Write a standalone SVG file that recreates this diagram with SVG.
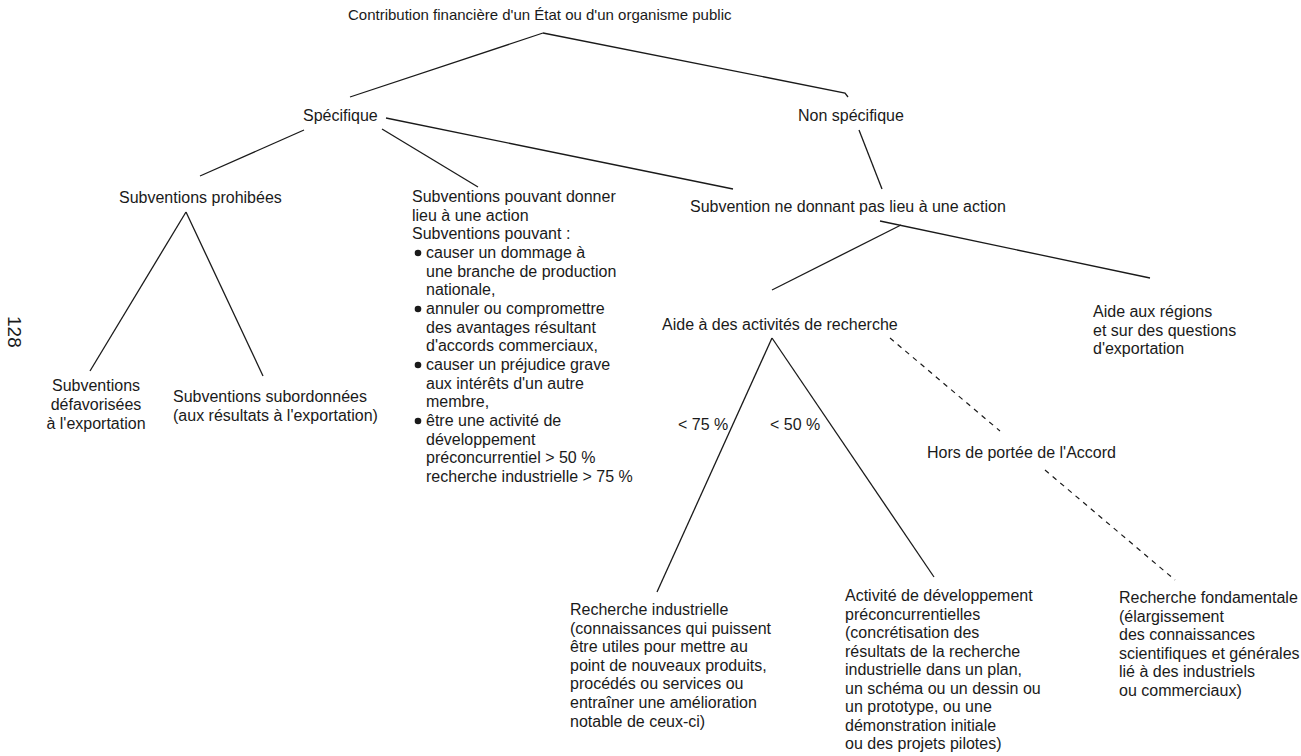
<svg xmlns="http://www.w3.org/2000/svg" width="1301" height="756" viewBox="0 0 1301 756">
<style>
text{font-family:"Liberation Sans",Arial,sans-serif;font-size:16px;fill:#1a1a1a}
.t{font-size:15px}
.c{text-anchor:middle}
.ln{stroke:#1a1a1a;stroke-width:1.3;fill:none}
.ds{stroke:#1a1a1a;stroke-width:1.2;fill:none;stroke-dasharray:5 5}
.b{fill:#1a1a1a}
</style>
<rect width="1301" height="756" fill="#fff"/>
<g id="connectors">
<line class="ln" x1="543" y1="33" x2="350" y2="97"/>
<polyline class="ln" points="543,33 845,93 848,97"/>
<line class="ln" x1="304" y1="130" x2="200" y2="176"/>
<line class="ln" x1="382" y1="129" x2="478" y2="187"/>
<line class="ln" x1="386" y1="118" x2="733" y2="189"/>
<line class="ln" x1="859" y1="130" x2="882" y2="189"/>
<line class="ln" x1="186" y1="212" x2="90" y2="371"/>
<line class="ln" x1="186" y1="212" x2="263" y2="376"/>
<line class="ln" x1="901" y1="225" x2="772" y2="290"/>
<line class="ln" x1="880" y1="221" x2="1150" y2="278"/>
<line class="ln" x1="772" y1="338" x2="657" y2="592"/>
<line class="ln" x1="772" y1="338" x2="934" y2="577"/>
<line class="ds" x1="890" y1="338" x2="1000" y2="431"/>
<line class="ds" x1="1045" y1="470" x2="1175" y2="580"/>
</g>
<g id="page"><text transform="translate(8,316) rotate(90)" style="font-size:19px">128</text></g>
<g id="n-contribution"><text class="t" x="348" y="20">Contribution financière d'un État ou d'un organisme public</text></g>
<g id="n-specifique"><text x="303" y="121">Spécifique</text></g>
<g id="n-nonspecifique"><text x="798" y="121">Non spécifique</text></g>
<g id="n-prohibees"><text x="119" y="203">Subventions prohibées</text></g>
<g id="n-defavorisees"><text class="c" x="96" y="391"><tspan x="96">Subventions</tspan><tspan x="96" dy="19">défavorisées</tspan><tspan x="96" dy="19">à l'exportation</tspan></text></g>
<g id="n-subordonnees"><text x="173" y="402"><tspan x="173">Subventions subordonnées</tspan><tspan x="173" dy="18.6">(aux résultats à l'exportation)</tspan></text></g>
<g id="n-action">
<text x="412" y="202"><tspan x="412">Subventions pouvant donner</tspan><tspan x="412" dy="18.67">lieu à une action</tspan><tspan x="412" dy="18.67">Subventions pouvant :</tspan><tspan x="426" dy="18.67">causer un dommage à</tspan><tspan x="426" dy="18.67">une branche de production</tspan><tspan x="426" dy="18.67">nationale,</tspan><tspan x="426" dy="18.67">annuler ou compromettre</tspan><tspan x="426" dy="18.67">des avantages résultant</tspan><tspan x="426" dy="18.67">d'accords commerciaux,</tspan><tspan x="426" dy="18.67">causer un préjudice grave</tspan><tspan x="426" dy="18.67">aux intérêts d'un autre</tspan><tspan x="426" dy="18.67">membre,</tspan><tspan x="426" dy="18.67">être une activité de</tspan><tspan x="426" dy="18.67">développement</tspan><tspan x="426" dy="18.67">préconcurrentiel &gt; 50 %</tspan><tspan x="426" dy="18.67">recherche industrielle &gt; 75 %</tspan></text>
<circle class="b" cx="418" cy="253" r="3.3"/>
<circle class="b" cx="418" cy="309" r="3.3"/>
<circle class="b" cx="418" cy="365" r="3.3"/>
<circle class="b" cx="418" cy="421" r="3.3"/>
</g>
<g id="n-nonaction"><text x="690" y="212">Subvention ne donnant pas lieu à une action</text></g>
<g id="n-aide-recherche"><text x="662" y="330">Aide à des activités de recherche</text></g>
<g id="n-aide-regions"><text x="1093" y="317"><tspan x="1093">Aide aux régions</tspan><tspan x="1093" dy="18.6">et sur des questions</tspan><tspan x="1093" dy="18.6">d'exportation</tspan></text></g>
<g id="labels"><text x="678" y="430">&lt; 75 %</text><text x="770" y="430">&lt; 50 %</text></g>
<g id="n-hors"><text x="927" y="458">Hors de portée de l'Accord</text></g>
<g id="n-rech-ind"><text x="570" y="615"><tspan x="570">Recherche industrielle</tspan><tspan x="570" dy="18.6">(connaissances qui puissent</tspan><tspan x="570" dy="18.6">être utiles pour mettre au</tspan><tspan x="570" dy="18.6">point de nouveaux produits,</tspan><tspan x="570" dy="18.6">procédés ou services ou</tspan><tspan x="570" dy="18.6">entraîner une amélioration</tspan><tspan x="570" dy="18.6">notable de ceux-ci)</tspan></text></g>
<g id="n-dev"><text x="845" y="601"><tspan x="845">Activité de développement</tspan><tspan x="845" dy="18.5">préconcurrentielles</tspan><tspan x="845" dy="18.5">(concrétisation des</tspan><tspan x="845" dy="18.5">résultats de la recherche</tspan><tspan x="845" dy="18.5">industrielle dans un plan,</tspan><tspan x="845" dy="18.5">un schéma ou un dessin ou</tspan><tspan x="845" dy="18.5">un prototype, ou une</tspan><tspan x="845" dy="18.5">démonstration initiale</tspan><tspan x="845" dy="18.5">ou des projets pilotes)</tspan></text></g>
<g id="n-fond"><text x="1119" y="603"><tspan x="1119">Recherche fondamentale</tspan><tspan x="1119" dy="18.5">(élargissement</tspan><tspan x="1119" dy="18.5">des connaissances</tspan><tspan x="1119" dy="18.5">scientifiques et générales</tspan><tspan x="1119" dy="18.5">lié à des industriels</tspan><tspan x="1119" dy="18.5">ou commerciaux)</tspan></text></g>
</svg>
